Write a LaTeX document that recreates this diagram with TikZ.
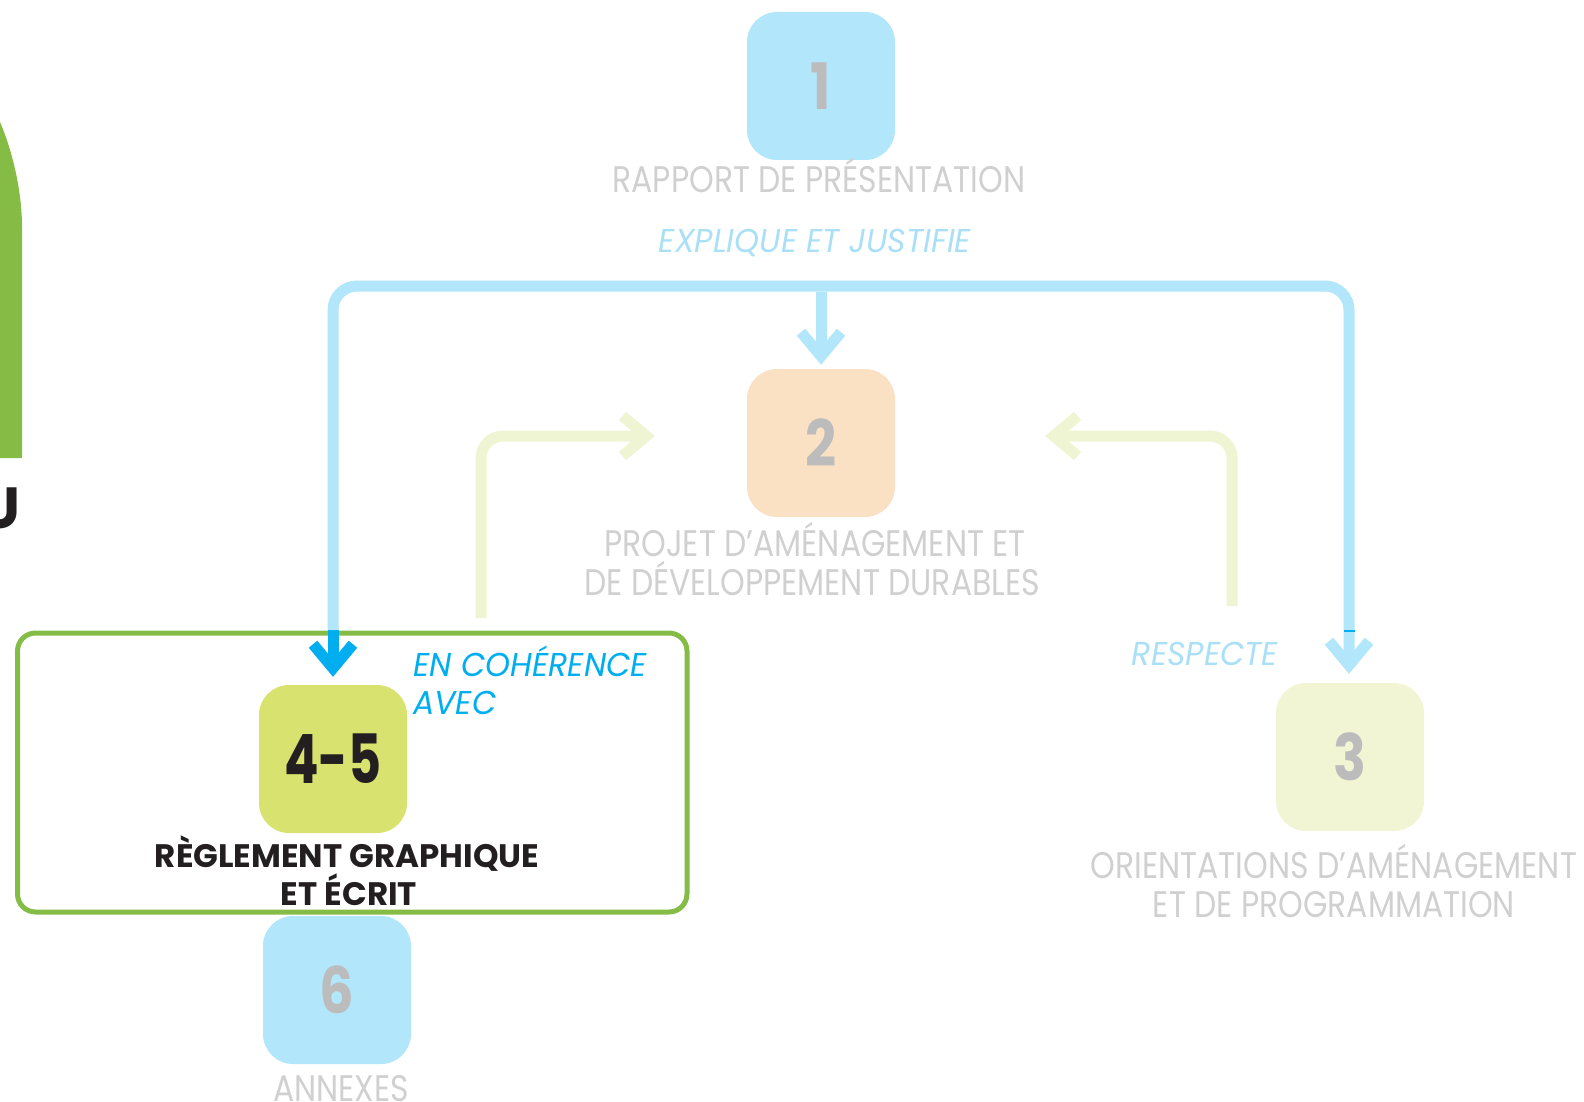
\documentclass[tikz,border=0pt]{standalone}
\usepackage{fontspec}
\setmainfont{Poppins}
\usetikzlibrary{arrows.meta}
\newfontfamily\labfont[FakeStretch=0.85]{Poppins}
\newfontfamily\itlfont[FakeStretch=0.96]{Poppins}
\newfontfamily\bdfont[FakeStretch=1.0]{Poppins}
\newfontfamily\numfont[FakeStretch=0.85]{Poppins}
\newfontfamily\bignumfont[FakeStretch=0.75]{Poppins}
\definecolor{lblue}{HTML}{B2E6FA}
\definecolor{dblue}{HTML}{00AEEF}
\definecolor{peach}{HTML}{FBE1C4}
\definecolor{paleg}{HTML}{F1F5D4}
\definecolor{arrg}{HTML}{EFF5D2}
\definecolor{lime}{HTML}{D7E26F}
\definecolor{greenf}{HTML}{84BC46}
\definecolor{digitgray}{HTML}{BCBCBC}
\definecolor{labgray}{HTML}{D0D0D0}
\definecolor{itblue}{HTML}{A9E0F7}
\definecolor{ink}{HTML}{231F20}
\begin{document}
\begin{tikzpicture}[x=1pt,y=-1pt,
  numbox/.style={rounded corners=30pt, minimum width=148pt, minimum height=148pt,
    inner sep=0pt, text=digitgray, font=\numfont\bfseries\fontsize{64}{64}\selectfont},
  lab/.style={inner sep=0pt, text=labgray, font=\labfont\fontsize{37}{37}\selectfont},
  itl/.style={inner sep=0pt, font=\itlfont\itshape\fontsize{33}{33}\selectfont},
  bold/.style={inner sep=0pt, text=ink, font=\bdfont\bfseries\fontsize{32.5}{32.5}\selectfont},
  bline/.style={draw=lblue, line width=11pt},
  dline/.style={draw=dblue, line width=11pt},
  gline/.style={draw=arrg, line width=11pt},
  chev/.tip={Straight Barb[sharp,length=24pt,width=40pt]},
]
\useasboundingbox (0,0) rectangle (1584,1102);

% partial shapes on the left edge
\fill[greenf] (0,458) -- (22,458) -- (22,227) .. controls (22,190) and (12,150) .. (0,122) -- cycle;
\node[font=\bdfont\bfseries\fontsize{58}{58}\selectfont, text=ink, anchor=base east, inner sep=0pt] (u) at (21,528) {U};

% frame around 4-5
\node[draw=greenf, line width=5pt, rounded corners=18pt, minimum width=669.5pt,
      minimum height=279pt, inner sep=0pt] (frame) at (352.25,772.5) {};

% boxes
\node[numbox, fill=lblue] (b1) at (821,86) {1};
\node[numbox, fill=peach] (b2) at (821,443) {2};
\node[numbox, fill=paleg] (b3) at (1350,757) {3};
\node[numbox, fill=lime, text=ink, font=\bignumfont\bfseries\fontsize{68}{68}\selectfont] (b45) at (333,759) {4-5};
\node[numbox, fill=lblue] (b6) at (337,990) {6};

% blue connectors
\coordinate (fl) at (333,286);
\coordinate (fr) at (1349,286);
\coordinate (fm) at (821,292);
\coordinate (lsplit) at (333,630);
\draw[bline, rounded corners=24pt, -chev, shorten >=9pt] (lsplit) -- (fl) -- (fr) -- (fr |- b3.north);
\draw[draw=dblue, line width=2.5pt] (1343.5,631) -- (1354.5,631);
\draw[dline, -chev, shorten >=8pt] (lsplit) -- (b45.north);
\draw[bline, -chev, shorten >=4pt] (fm) -- (b2.north);

% green connectors
\coordinate (gls) at (481,618);
\coordinate (glc) at (481,436);
\coordinate (gle) at (655,436);
\draw[gline, rounded corners=22pt, -chev] (gls) -- (glc) -- (gle);
\coordinate (grs) at (1232,606);
\coordinate (grc) at (1232,436);
\coordinate (gre) at (1045,436);
\draw[gline, rounded corners=22pt, -chev] (grs) -- (grc) -- (gre);

% labels
\node[lab, anchor=base] (t1) at (819,193) {RAPPORT DE PRÉSENTATION};
\node[itl, text=itblue, anchor=base] (t1b) at (815,252) {EXPLIQUE ET JUSTIFIE};
\node[lab, anchor=base] (t2a) at (815,556) {PROJET D’AMÉNAGEMENT ET};
\node[lab, anchor=base] (t2b) at (812,595) {DE DÉVELOPPEMENT DURABLES};
\node[itl, text=itblue, anchor=base] (t3r) at (1205,665) {RESPECTE};
\node[lab, anchor=base] (t3a) at (1334,878) {ORIENTATIONS D’AMÉNAGEMENT};
\node[lab, anchor=base] (t3b) at (1334,917) {ET DE PROGRAMMATION};
\node[itl, text=dblue, anchor=base west] (ec1) at (413,676) {EN COHÉRENCE};
\node[itl, text=dblue, anchor=base west] (ec2) at (413,714) {AVEC};
\node[bold, anchor=base] (r1) at (347,867) {RÈGLEMENT GRAPHIQUE};
\node[bold, anchor=base] (r2) at (349,905) {ET ÉCRIT};
\node[lab, anchor=base] (t6) at (341,1101) {ANNEXES};
\end{tikzpicture}
\end{document}
